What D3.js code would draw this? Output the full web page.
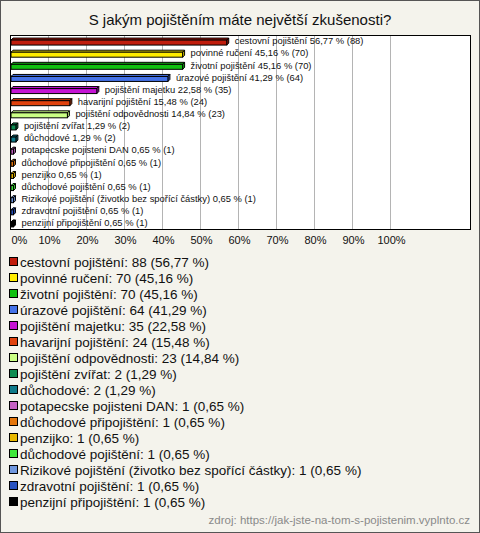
<!DOCTYPE html>
<html>
<head>
<meta charset="utf-8">
<script src="https://cdn.jsdelivr.net/npm/d3@7"></script>
<style>
  body { margin: 0; background: #fff; }
  svg { display: block; font-family: "Liberation Sans", Arial, sans-serif; }
</style>
</head>
<body>
<svg id="chart"></svg>
<script>
var title = "S jakým pojištěním máte největší zkušenosti?";
var source = "zdroj: https://jak-jste-na-tom-s-pojistenim.vyplnto.cz";

var categories = ["cestovní pojištění", "povinné ručení", "životní pojištění", "úrazové pojištění",
  "pojištění majetku", "havarijní pojištění", "pojištění odpovědnosti", "pojištění zvířat",
  "důchodové", "potapecske pojisteni DAN", "důchodové připojištění", "penzijko",
  "důchodové pojištění", "Rizikové pojištění (životko bez spořící částky)", "zdravotní pojištění",
  "penzijní připojištění"];
var counts = [88, 70, 70, 64, 35, 24, 23, 2, 2, 1, 1, 1, 1, 1, 1, 1];
var percents = [56.77, 45.16, 45.16, 41.29, 22.58, 15.48, 14.84, 1.29, 1.29, 0.65, 0.65, 0.65, 0.65, 0.65, 0.65, 0.65];
var colors = ["#c01c0c", "#ffec00", "#10c010", "#4472e8", "#c414d4", "#e0420e", "#caff84", "#0e8c52",
  "#0e7a8a", "#c462c4", "#e4760c", "#e8b800", "#40e83c", "#7098e0", "#2852c0", "#000000"];
var tickValues = [0, 10, 20, 30, 40, 50, 60, 70, 80, 90, 100];
var tickLabels = ["0%", "10%", "20%", "30%", "40%", "50%", "60%", "70%", "80%", "90%", "100%"];

var W = 480, H = 533;
var plot = { left: 10, right: 470, top: 35, bottom: 229 };

var rows = categories.map(function(c, i) {
  return { cat: c, count: counts[i], pct: percents[i], color: colors[i] };
});

function fmt(v) { return v.toFixed(2).replace(".", ","); }

var svg = d3.select("#chart").attr("width", W).attr("height", H);

svg.append("rect")
  .attr("x", 0.5).attr("y", 0.5).attr("width", W - 1).attr("height", H - 1)
  .attr("fill", "#f4f3ec").attr("stroke", "#555");

svg.append("text")
  .attr("x", W / 2).attr("y", 25)
  .attr("text-anchor", "middle")
  .attr("font-size", "15px").attr("fill", "#111")
  .text(title);

var x = d3.scaleLinear().domain([0, 100]).range([plot.left + 1, plot.left + 381]);
var y = d3.scaleBand().domain(categories).range([plot.top, plot.bottom]);

svg.append("rect")
  .attr("x", plot.left + 0.5).attr("y", plot.top + 0.5)
  .attr("width", plot.right - plot.left).attr("height", plot.bottom - plot.top)
  .attr("fill", "#fff");

// grid
svg.append("g")
  .selectAll("line")
  .data(tickValues.slice(1))
  .enter()
  .append("line")
    .attr("x1", function(d) { return Math.round(x(d)) - 0.5 })
    .attr("x2", function(d) { return Math.round(x(d)) - 0.5 })
    .attr("y1", plot.top).attr("y2", plot.bottom)
    .attr("stroke", "#b4b4b4");

svg.append("rect")
  .attr("x", plot.left + 0.5).attr("y", plot.top + 0.5)
  .attr("width", plot.right - plot.left).attr("height", plot.bottom - plot.top)
  .attr("fill", "none").attr("stroke", "#000");

// x axis labels
var xAxis = d3.axisBottom(x)
  .tickValues(tickValues)
  .tickFormat(function(d, i) { return tickLabels[i] })
  .tickSize(0)
  .tickPadding(0);

var ax = svg.append("g")
  .attr("transform", "translate(0," + (plot.bottom + 5) + ")")
  .call(xAxis);
ax.select(".domain").remove();
ax.selectAll("text")
  .attr("font-family", "Liberation Sans, Arial, sans-serif")
  .attr("font-size", "11px")
  .attr("fill", "#111")
  .attr("dy", "0.9em");
ax.selectAll(".tick").filter(function(d) { return d === 0 })
  .select("text").attr("text-anchor", "start").attr("dx", "0");

// bars (3D look)
var depth = 2, bh = 5;
var bars = svg.append("g")
  .selectAll("g")
  .data(rows)
  .enter()
  .append("g")
    .attr("transform", function(d) {
      return "translate(" + x(0) + "," + (y(d.cat) + y.bandwidth() / 2 - 1) + ")";
    });

bars.append("path")
  .attr("d", function(d) {
    var w = x(d.pct) - x(0);
    return "M0,0 L" + w + ",0 L" + (w + depth) + "," + (-depth) + " L" + depth + "," + (-depth) + "Z";
  })
  .attr("fill", function(d) { return d.color })
  .attr("stroke", "#000").attr("stroke-width", 1);

bars.append("path")
  .attr("d", function(d) {
    var w = x(d.pct) - x(0);
    return "M" + w + ",0 L" + (w + depth) + "," + (-depth) + " L" + (w + depth) + "," + (bh - depth) + " L" + w + "," + bh + "Z";
  })
  .attr("fill", function(d) { return d3.color(d.color).darker(0.5) })
  .attr("stroke", "#000").attr("stroke-width", 1);

bars.append("rect")
  .attr("x", 0).attr("y", 0)
  .attr("width", function(d) { return x(d.pct) - x(0) })
  .attr("height", bh)
  .attr("fill", function(d) { return d.color })
  .attr("stroke", "#000").attr("stroke-width", 1);

bars.append("text")
  .attr("x", function(d) { return x(d.pct) - x(0) + depth + 6 })
  .attr("y", 1)
  .attr("dy", "0.35em")
  .attr("font-size", "9.4px")
  .attr("fill", "#111")
  .text(function(d) { return d.cat + " " + fmt(d.pct) + " % (" + d.count + ")" });

// legend
var legend = svg.append("g")
  .selectAll("g")
  .data(rows)
  .enter()
  .append("g")
    .attr("transform", function(d, i) { return "translate(0," + (262 + i * 16) + ")" });

legend.append("rect")
  .attr("x", 9.5).attr("y", -4.5)
  .attr("width", 8).attr("height", 8)
  .attr("fill", function(d) { return d.color })
  .attr("stroke", "#000");

legend.append("text")
  .attr("x", 20).attr("y", 0)
  .attr("dy", "0.35em")
  .attr("font-size", "13.5px")
  .attr("fill", "#111")
  .text(function(d) { return d.cat + ": " + d.count + " (" + fmt(d.pct) + " %)" });

svg.append("text")
  .attr("x", 470).attr("y", 524)
  .attr("text-anchor", "end")
  .attr("font-size", "11.5px")
  .attr("fill", "#8a8a8a")
  .text(source);
</script>
</body>
</html>
